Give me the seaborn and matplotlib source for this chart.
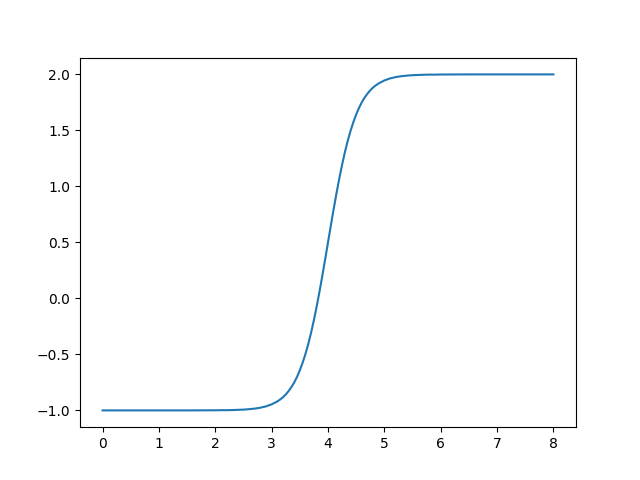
import matplotlib
matplotlib.use("Agg")
import matplotlib.pyplot as plt
import seaborn as sns

# points
x_vals = [0.0, 0.5, 1.0, 1.5, 2.0, 2.1, 2.2, 2.3, 2.4, 2.5, 2.6, 2.7, 2.8, 2.9,
          3.0, 3.1, 3.15, 3.2, 3.25, 3.3, 3.35, 3.4, 3.45, 3.5, 3.55, 3.6, 3.65,
          3.7, 3.75, 3.8, 3.85, 3.9, 3.95, 4.0,
          4.05, 4.1, 4.15, 4.2, 4.25, 4.3, 4.35, 4.4, 4.45, 4.5, 4.55, 4.6, 4.65,
          4.7, 4.75, 4.8, 4.85, 4.9, 5.0,
          5.1, 5.2, 5.3, 5.4, 5.5, 5.6, 5.7, 5.8, 5.9, 6.0, 6.5, 7.0, 7.5, 8.0]
y_vals = [-1.0, -1.0, -1.0, -1.0, -0.999, -0.998, -0.998, -0.997, -0.995, -0.993,
          -0.989, -0.984, -0.976, -0.964,
          -0.946, -0.920, -0.903, -0.883, -0.858, -0.828, -0.793, -0.751, -0.701,
          -0.642, -0.574, -0.496, -0.407,
          -0.306, -0.193, -0.070, 0.063, 0.204, 0.350, 0.50,
          0.650, 0.796, 0.937, 1.070, 1.193, 1.306, 1.407, 1.496, 1.574, 1.642,
          1.701, 1.751, 1.793,
          1.828, 1.858, 1.883, 1.903, 1.920, 1.946,
          1.964, 1.976, 1.984, 1.989, 1.993, 1.995, 1.997, 1.998, 1.998, 1.999,
          2.0, 2.0, 2.0, 2.0]

fig, ax = plt.subplots(figsize=(6.4, 4.8), dpi=100)
sns.lineplot(x=x_vals, y=y_vals, ax=ax, color="#1f77b4", linewidth=1.5)
ax.set_xticks(range(0, 9))
ax.set_yticks([-1.0, -0.5, 0.0, 0.5, 1.0, 1.5, 2.0])
plt.savefig("out.png", dpi=100)
